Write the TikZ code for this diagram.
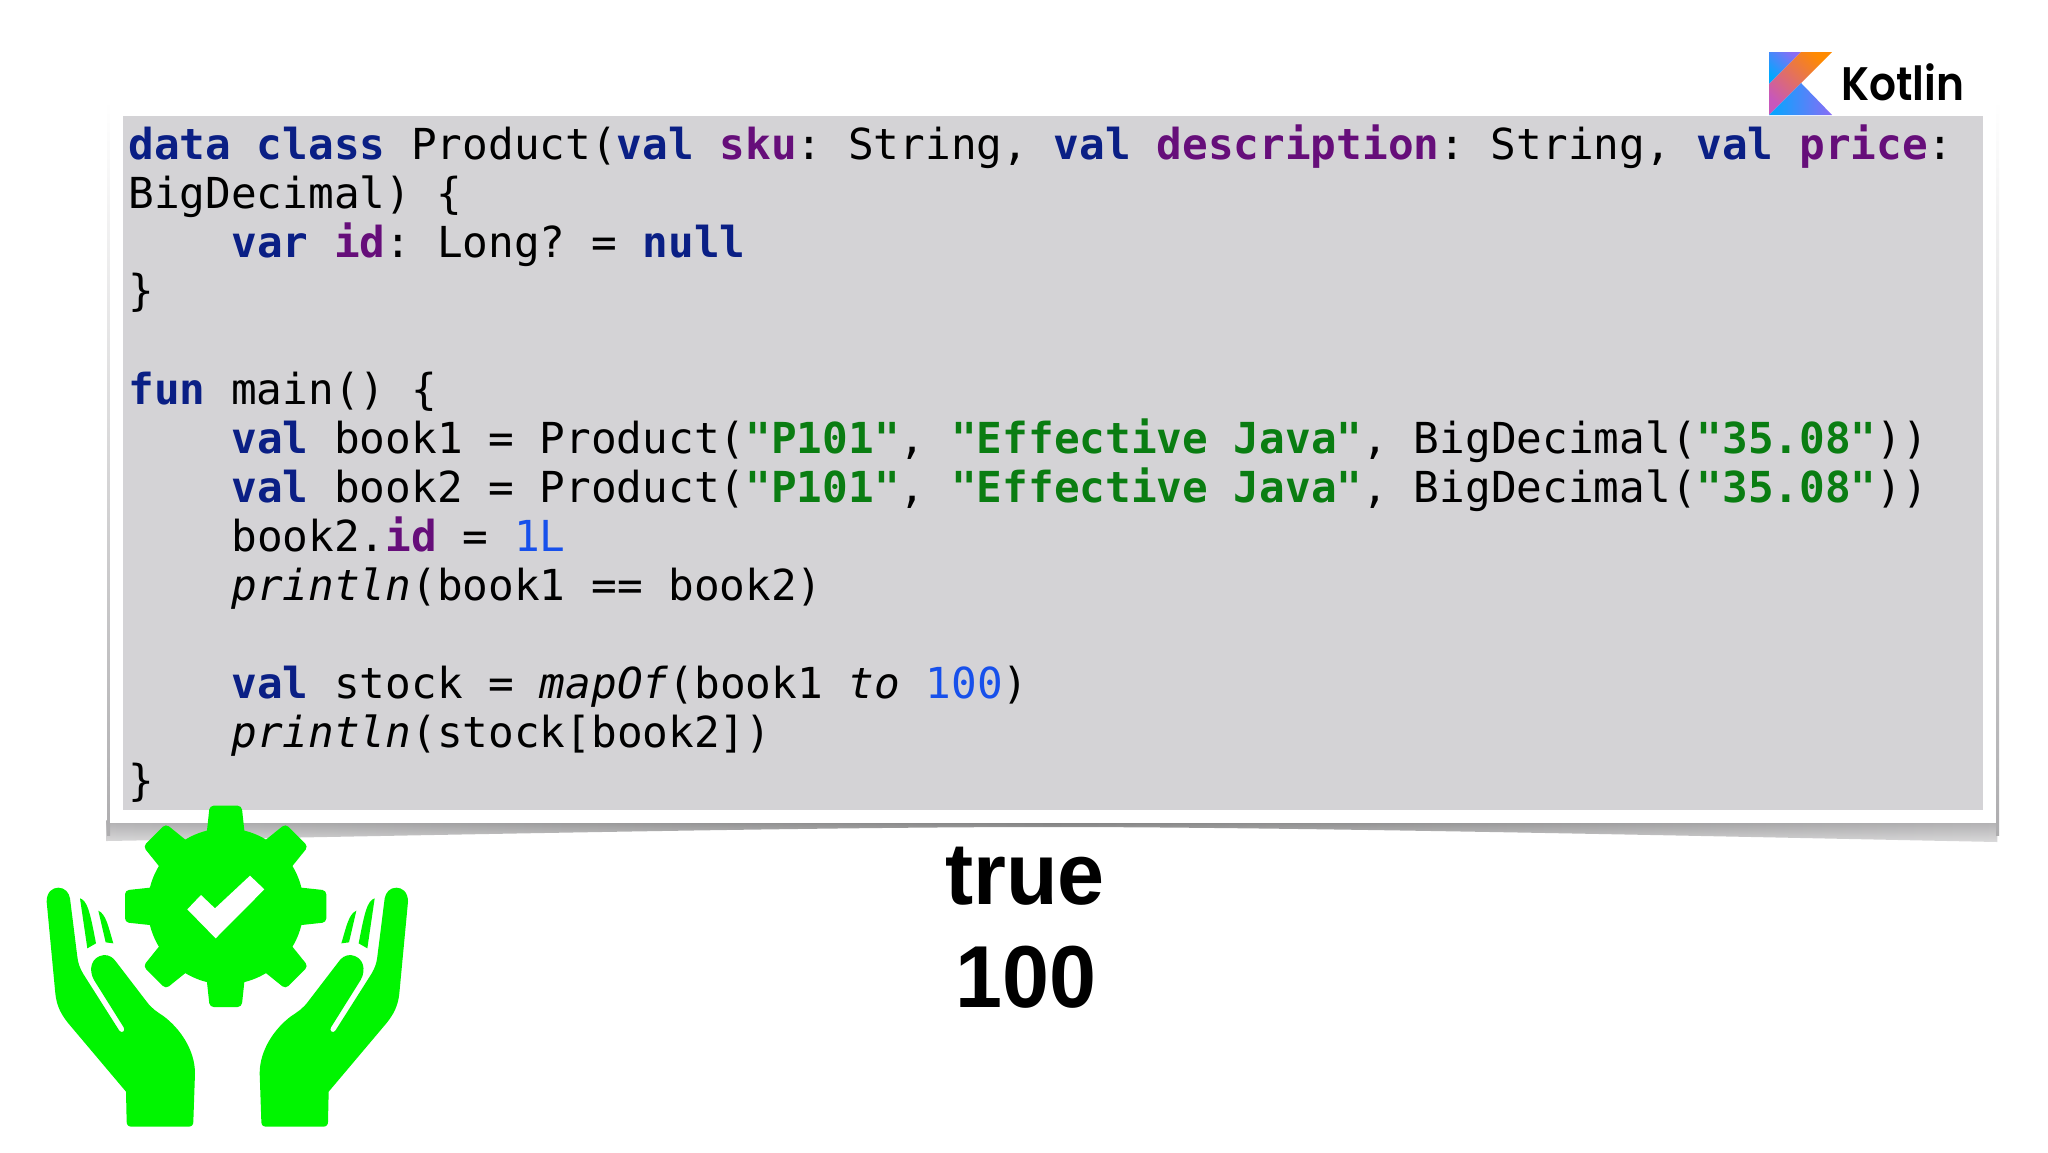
\documentclass[tikz,border=0pt]{standalone}
\usepackage{fontspec}
\usepackage{xcolor}
\usetikzlibrary{fadings}
\newfontfamily\codefont{DejaVu Sans Mono}
\newfontfamily\resultfont[FakeStretch=0.96]{Liberation Sans}
\newfontfamily\logofont[FakeStretch=0.9]{Poppins SemiBold}
\frenchspacing
\definecolor{kwblue}{HTML}{0A1F85}
\definecolor{propurple}{HTML}{660E7A}
\definecolor{strgreen}{HTML}{0A7D12}
\definecolor{numblue}{HTML}{1750EB}
\definecolor{boxgray}{HTML}{D4D3D6}
\definecolor{shadowend}{HTML}{AEADAF}
\definecolor{shadowmid}{HTML}{7A7A7A}
\definecolor{handgreen}{HTML}{00F500}
\definecolor{logoblue}{HTML}{00A8FF}
\definecolor{logoviolet}{HTML}{8A6CF5}
\definecolor{logoorange}{HTML}{FF8A00}
\definecolor{logopink}{HTML}{C757BC}
\newcommand{\kwd}[1]{\textbf{\textcolor{kwblue}{#1}}}
\newcommand{\propn}[1]{\textbf{\textcolor{propurple}{#1}}}
\newcommand{\strl}[1]{\textbf{\textcolor{strgreen}{#1}}}
\newcommand{\numl}[1]{\textcolor{numblue}{#1}}
\newcommand{\fnc}[1]{\textit{#1}}
% one hand, in crop units
\newcommand{\drawhand}{
	\fill[handgreen] (140,365) .. controls (140,335) and (158,323) .. (175,323)
		.. controls (195,323) and (207,338) .. (210,355) -- (232,530)
		.. controls (234,550) and (240,565) .. (250,582) -- (358,752)
		.. controls (365,762) and (378,752) .. (371,742) -- (282,600)
		.. controls (265,570) and (272,530) .. (312,525)
		.. controls (328,525) and (340,533) .. (348,545) -- (440,665)
		.. controls (455,685) and (470,695) .. (490,708)
		.. controls (540,745) and (585,810) .. (585,880) -- (580,1025)
		.. controls (580,1035) and (575,1040) .. (565,1040) -- (395,1040)
		.. controls (385,1040) and (380,1035) .. (380,1025) -- (378,935) -- (205,730)
		.. controls (185,705) and (170,680) .. (166,640) -- cycle;
	\fill[handgreen] (240,355) .. controls (262,362) and (270,395) .. (288,490)
		-- (262,505) -- cycle;
	\fill[handgreen] (295,392) .. controls (318,402) and (325,440) .. (340,490)
		-- (317,487) -- cycle;
}
\tikzfading[name=shadowfade,top color=transparent!0,bottom color=transparent!55]
\tikzset{
	codeline/.style={anchor=base west,inner sep=0pt,font=\codefont\fontsize{21.35}{24}\selectfont},
	resultline/.style={anchor=base,inner sep=0pt,font=\resultfont\bfseries\fontsize{44}{48}\selectfont},
}

\begin{document}
\begin{tikzpicture}[x=0.5pt,y=-0.5pt]
	\useasboundingbox (0,0) rectangle (2048,1152);
	\fill[white] (0,0) rectangle (2048,1152);

	% shadow and card
	\shade[left color=shadowend,right color=shadowend,middle color=shadowmid,path fading=shadowfade,fit fading=true]
		(107,820) -- (107,841) .. controls (400,836) and (800,827) .. (1050,827)
		.. controls (1300,827) and (1700,836) .. (1999,842) -- (1999,820) -- cycle;
	\shade[top color=white,bottom color=shadowend] (107,100) rectangle (110,835);
	\shade[top color=white,bottom color=shadowend] (1996,100) rectangle (1999,835);
	\fill[white] (110,103) rectangle (1996,823);
	\fill[boxgray] (123,116) rectangle (1983,810);

	% code
	\node[codeline] (line1) at (128,159) {\kwd{data class} Product(\kwd{val} \propn{sku}: String, \kwd{val} \propn{description}: String, \kwd{val} \propn{price}:};
	\node[codeline] (line2) at (128,208) {BigDecimal) \{};
	\node[codeline] (line3) at (231,257) {\kwd{var} \propn{id}: Long? = \kwd{null}};
	\node[codeline] (line4) at (128,305) {\}};
	\node[codeline] (line6) at (128,404) {\kwd{fun} main() \{};
	\node[codeline] (line7) at (231,453) {\kwd{val} book1 = Product(\strl{"P101"}, \strl{"Effective Java"}, BigDecimal(\strl{"35.08"}))};
	\node[codeline] (line8) at (231,502) {\kwd{val} book2 = Product(\strl{"P101"}, \strl{"Effective Java"}, BigDecimal(\strl{"35.08"}))};
	\node[codeline] (line9) at (231,551) {book2.\propn{id} = \numl{1L}};
	\node[codeline] (line10) at (231,600) {\fnc{println}(book1 == book2)};
	\node[codeline] (line12) at (231,698) {\kwd{val} stock = \fnc{mapOf}(book1 \fnc{to} \numl{100})};
	\node[codeline] (line13) at (231,747) {\fnc{println}(stock[book2])};
	\node[codeline] (line14) at (128,795) {\}};

	% results
	\node[resultline] (res1) at (1025,904) {true};
	\node[resultline] (res2) at (1026,1007) {100};

	% logo
	\shade[bottom color=logoblue,top color=logoviolet,shading angle=-45]
		(1769,52) -- (1801,52) -- (1769,84) -- cycle;
	\shade[bottom color=logopink,top color=logoorange,shading angle=-45]
		(1801,52) -- (1832,52) -- (1769,115) -- (1769,84) -- cycle;
	\shade[left color=logoblue,right color=logoviolet]
		(1769,115) -- (1801,83) -- (1832,115) -- cycle;
	\node[anchor=base west,inner sep=0pt,font=\logofont\fontsize{23.5}{26}\selectfont] (kotlin) at (1841,100) {Kotlin};

	% gear
	\begin{scope}[shift={(0,780)},scale=1/3]
		\fill[handgreen] (677,379) circle (234);
		\foreach \ang in {0,45,...,315}
			\fill[handgreen,rounded corners=2pt,rotate around={\ang:(677,379)}]
				(619,170) -- (629,77) -- (725,77) -- (735,170) -- cycle;
		\fill[white] (603,345) -- (645,385) -- (750,287) -- (793,328) -- (647,475) -- (562,388) -- cycle;
		\drawhand
	\end{scope}
	\begin{scope}[shift={(454.67,780)},xscale=-1/3,yscale=1/3]
		\drawhand
	\end{scope}
\end{tikzpicture}
\end{document}
